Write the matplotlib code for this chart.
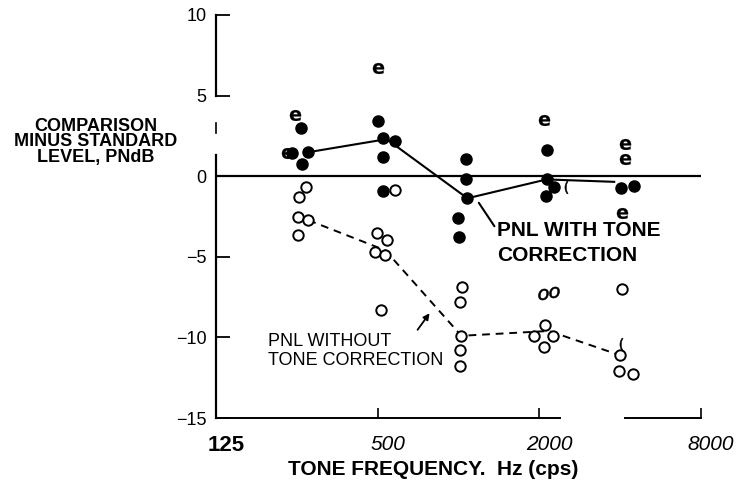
import numpy as np
import matplotlib
matplotlib.use("Agg")
import matplotlib.pyplot as plt
import matplotlib.transforms as mtransforms

# ---------------- data ----------------
# PNL WITH tone correction: filled circles (frequency Hz, level diff PNdB)
with_freq = [240, 259, 276, 262, 503, 525, 582, 525, 525,
             1070, 1070, 1079, 999, 1008,
             2128, 2128, 2260, 2110,
             4020, 4490]
with_val = [1.43, 2.98, 1.49, 0.75, 3.4, 2.36, 2.17, 1.18, -0.93,
            1.06, -0.19, -1.37, -2.6, -3.8,
            1.6, -0.2, -0.7, -1.24,
            -0.75, -0.62]
# scanned points that appear as "e" glyphs
e_freq = [246, 230, 503, 2074, 4160, 4160, 4055]
e_val = [3.8, 1.43, 6.7, 3.5, 2.0, 1.06, -2.3]

# PNL WITHOUT tone correction: open circles
without_freq = [271, 255, 253, 276, 253,
                582, 498, 543, 490, 534, 516,
                1034, 1016, 1025, 1016, 1016,
                2092, 1903, 2240, 2074,
                4055, 3985, 3950, 4455]
without_val = [-0.68, -1.30, -2.55, -2.73, -3.66,
               -0.87, -3.54, -3.98, -4.72, -4.9, -8.3,
               -6.9, -7.8, -9.9, -10.8, -11.8,
               -9.25, -9.9, -9.9, -10.6,
               -7.0, -11.1, -12.1, -12.3]
# scanned open points that appear as italic "o" or partial "(" glyphs
glyph_freq = [2056, 2260, 2505, 4020]
glyph_val = [-7.3, -7.2, -0.7, -10.4]
glyph_char = ["o", "o", "(", "("]

# mean lines
with_line_freq = [276, 540, 1079, 2128, 3800]
with_line_val = [1.49, 2.3, -1.37, -0.2, -0.35]
without_line_freq = [276, 534, 1025, 2170, 3985]
without_line_val = [-2.73, -4.6, -9.9, -9.6, -11.1]

x_ticks = [125, 500, 2000, 8000]
x_ticklabels = ["125", "500", "2000", "8000"]
y_ticks = [-15, -10, -5, 0, 5, 10]
y_ticklabels = ["\u221215", "\u221210", "\u22125", "0", "5", "10"]

SANS = ["Liberation Sans", "DejaVu Sans"]

# ---------------- figure ----------------
fig = plt.figure(figsize=(7.38, 4.93), dpi=100)
ax = fig.add_axes([0.2927, 0.1521, 0.6572, 0.8175])
ax.set_xscale("log", base=2)
ax.set_xlim(125, 8000)
ax.set_ylim(-15, 10)

# zero reference line
ax.axhline(0, color="black", lw=1.6, zorder=2)

# mean lines
ax.plot(with_line_freq, with_line_val, color="black", lw=1.5, zorder=3)
ax.plot(without_line_freq, without_line_val, color="black", lw=1.4,
        ls=(0, (4, 3)), zorder=3)

# points
ax.plot(with_freq, with_val, ls="none", marker="o", ms=8, mfc="black",
        mec="black", zorder=4)
ax.plot(without_freq, without_val, ls="none", marker="o", ms=7.5,
        mfc="white", mec="black", mew=1.4, zorder=4)
ax.plot(e_freq, e_val, ls="none", marker=r"$\mathbf{e}$", ms=8,
        color="black", mew=0.2, zorder=5)
for f, v, c in zip(glyph_freq, glyph_val, glyph_char):
    ax.plot([f], [v], ls="none", marker=f"${c}$", ms=8 if c == "o" else 9,
            color="black", mew=0.4, zorder=5)

# annotations
ax.annotate("PNL WITH TONE\nCORRECTION", xy=(1190, -1.65), xytext=(1393, -2.75),
            ha="left", va="top", fontsize=15, fontweight="bold", family=SANS,
            linespacing=1.45,
            arrowprops=dict(arrowstyle="-", color="black", lw=1.5,
                            shrinkA=0, shrinkB=0,
                            relpos=(0, 0.78)))
ax.annotate("PNL WITHOUT\nTONE CORRECTION", xy=(780, -8.5), xytext=(195, -9.7),
            ha="left", va="top", fontsize=13, family=SANS,
            linespacing=1.2,
            arrowprops=dict(arrowstyle="-|>", color="black", lw=1.3,
                            mutation_scale=9, shrinkA=0, shrinkB=0,
                            relpos=(0.8, 0.72)))

# spines
for s in ["top", "right"]:
    ax.spines[s].set_visible(False)
ax.spines["left"].set_bounds(-15, 1.3)
ax.spines["bottom"].set_bounds(125, 2390)
ax.spines["left"].set_linewidth(1.6)
ax.spines["bottom"].set_linewidth(1.4)
# upper fragment of broken y axis and right fragment of x axis
ax.plot([0, 0], [5, 10], color="black", lw=1.6, clip_on=False,
        transform=ax.get_yaxis_transform())
ax.plot([0, 0], [2.7, 3.3], color="black", lw=1.2, clip_on=False,
        transform=ax.get_yaxis_transform())
ax.plot([4175, 8000], [0, 0], color="black", lw=1.4, clip_on=False,
        transform=ax.get_xaxis_transform())

# ticks
ax.set_yticks(y_ticks)
ax.set_yticklabels(y_ticklabels, fontsize=13, family=SANS)
ax.tick_params(axis="y", direction="in", length=10, width=1.3, pad=7)
ax.set_xticks(x_ticks)
ax.set_xticklabels(x_ticklabels, fontsize=15, family=SANS)
ax.xaxis.set_minor_locator(matplotlib.ticker.NullLocator())
ax.tick_params(axis="x", direction="in", length=7, width=1.2, pad=12)
shift = mtransforms.ScaledTranslation(10 / 100, 0, fig.dpi_scale_trans)
for lbl in ax.get_xticklabels():
    lbl.set_transform(lbl.get_transform() + shift)
    if lbl.get_text() == "125":
        lbl.set_fontweight("bold")
        lbl.set_fontsize(16)
    else:
        lbl.set_style("italic")

ax.set_xlabel("TONE FREQUENCY.  Hz (cps)", fontsize=15, fontweight="bold",
              family=SANS, labelpad=4)
ax.xaxis.set_label_coords(0.447, -0.105)
fig.text(0.13, 0.712, "COMPARISON\nMINUS STANDARD\nLEVEL, PNdB",
         ha="center", va="center", fontsize=13, fontweight="bold",
         family=SANS, linespacing=0.92)

fig.savefig("out.png", dpi=100)
